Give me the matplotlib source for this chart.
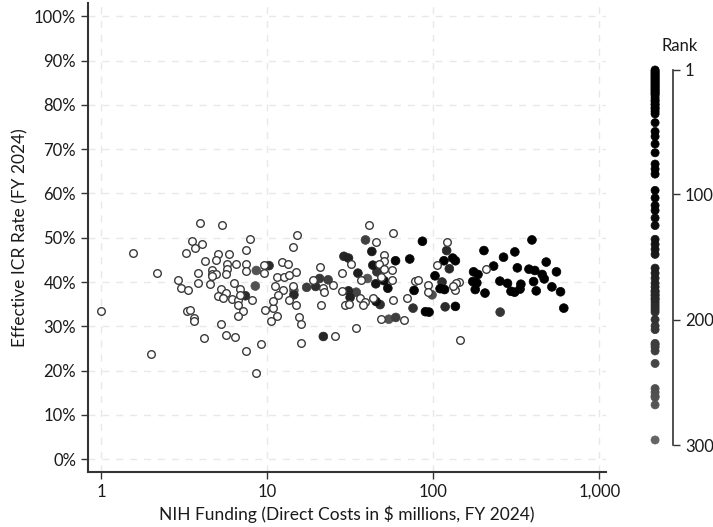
import numpy as np
import matplotlib
matplotlib.use('Agg')
import matplotlib.pyplot as plt
from matplotlib.colors import LinearSegmentedColormap, Normalize
from matplotlib.ticker import FuncFormatter, NullLocator

plt.rcParams['font.family'] = ['Lato', 'DejaVu Sans']

# unranked institutions (open circles): NIH direct costs ($M) and effective ICR (%)
open_funding = [1.56, 2.18, 2.92, 3.03, 1.0, 3.31, 1.99,
                3.24, 3.94, 5.38, 3.52, 4.08, 3.70, 7.93, 7.43, 5.09, 5.93, 4.95, 4.23, 7.5, 7.5,
                6.48, 5.77, 5.72, 4.64, 4.67, 4.95, 5.66, 3.83, 3.85, 4.50, 4.69, 9.58, 9.54, 12.3,
                6.35, 6.87, 5.28, 5.69, 5.05, 5.46, 6.15, 6.71, 6.84, 8.08, 3.33, 6.71, 7.17, 6.71,
                3.43, 3.64, 3.62, 5.28, 4.16, 5.64, 6.44, 7.43, 9.23, 8.61, 9.71, 10.9, 10.8, 11.4,
                10.5, 11.1, 11.5, 12.4, 11.7, 12.6,
                41.1, 15.2, 14.3, 13.4, 14.9, 13.6, 45.1, 31.9, 20.9, 28.1, 36.8, 18.8, 21.6, 24.8,
                22.0, 14.4, 13.5, 15.0, 15.6, 16.1, 16.0, 21.2, 25.5, 28.3, 29.4, 31.3, 36.0, 38.7,
                38.0, 43.3, 34.4, 48.6,
                57.6, 121, 50.6, 50.4, 47.0, 50.4, 56.1, 48.3, 56.3, 77.4, 80.7, 92.7, 93.5, 105,
                136, 142, 138, 132, 69.6, 57.1, 66.5, 145, 207]
open_icr = [46.6, 42.0, 40.5, 38.6, 33.4, 33.4, 23.8,
            46.6, 53.3, 52.9, 49.2, 48.6, 47.7, 49.8, 47.3, 46.3, 46.3, 44.9, 44.7, 44.0, 42.5,
            44.1, 44.0, 43.0, 42.8, 41.9, 41.7, 41.7, 42.0, 39.8, 39.5, 41.3, 43.8, 42.0, 44.5,
            39.7, 38.4, 38.5, 37.5, 36.8, 36.4, 36.2, 36.0, 37.1, 36.0, 38.3, 34.9, 33.5, 32.3,
            33.6, 31.9, 31.1, 30.6, 27.3, 28.1, 27.5, 24.5, 26.0, 19.4, 33.6, 34.1, 35.7, 32.3,
            31.1, 39.0, 41.2, 38.3, 37.0, 41.1,
            52.9, 50.7, 48.0, 44.1, 42.3, 41.6, 49.1, 44.0, 43.4, 42.0, 40.4, 40.4, 38.7, 39.4,
            37.7, 39.2, 36.0, 34.7, 32.0, 30.5, 26.2, 34.9, 27.9, 37.9, 34.7, 35.0, 36.3, 35.4,
            34.7, 36.5, 29.6, 31.6,
            51.1, 49.1, 46.0, 44.7, 44.1, 42.9, 42.6, 41.1, 40.4, 40.2, 40.5, 39.3, 37.7, 43.8,
            38.3, 39.9, 39.8, 39.0, 36.3, 35.9, 31.4, 26.9, 42.9]

# ranked institutions (filled circles, shaded by rank)
ranked_funding = [611, 584, 552, 518, 479, 466, 453, 417, 409, 402, 393, 377, 337, 333, 321,
                  310, 309, 294, 280, 265, 252, 231, 205, 202, 186, 183, 179, 175, 173, 136,
                  136, 131, 117, 116, 110, 102.5, 94.4, 89.8, 86.1, 76.7, 72.2, 59.3, 53.3, 50.6,
                  45.3, 45.1, 43.3, 42.7, 35.2, 31.6, 30.9, 30.9, 29.0, 21.8, 14.5, 10.27, 7.40,
                  8.61, 8.49, 39.1, 45.8, 40.2, 20.7, 23.3, 19.6, 17.3, 14.5, 34.4, 47.9, 120.5,
                  98.4, 125, 113, 118, 75.6, 54.0, 59.5, 253]
ranked_icr = [34.1, 37.8, 42.3, 38.9, 44.5, 40.7, 41.7, 38.0, 42.6, 40.1, 49.5, 42.9, 39.5, 38.4, 43.2,
              46.8, 37.7, 37.9, 39.7, 45.6, 40.2, 43.6, 37.5, 47.1, 41.7, 39.8, 38.3, 42.3, 40.1, 44.8,
              34.5, 45.4, 38.3, 44.8, 38.5, 41.4, 33.2, 33.3, 49.2, 38.1, 45.2, 44.8, 38.6, 40.3,
              35.6, 39.6, 43.8, 46.9, 42.0, 36.5, 45.4, 38.0, 45.8, 27.7, 37.1, 43.7, 36.9,
              42.6, 39.1, 49.5, 42.3, 40.8, 40.8, 40.5, 39.0, 38.8, 38.1, 37.7, 34.9, 47.1,
              37.1, 43.0, 40.0, 34.4, 34.1, 31.6, 32.0, 33.2]
ranked_rank = [1, 2, 3, 4, 5, 6, 7, 8, 9, 10, 11, 12, 13, 14, 15,
               16, 17, 18, 19, 20, 21, 23, 25, 26, 28, 29, 31, 32, 34, 36,
               43, 50, 54, 60, 67, 76, 80, 84, 97, 103, 109, 113, 119, 125,
               136, 140, 144, 148, 159, 163, 167, 171, 174, 177, 180, 184, 188,
               262, 258, 225, 200, 268, 208, 222, 190, 220, 296, 235, 192, 181,
               255, 178, 186, 183, 194, 261, 219, 205]

cmap = LinearSegmentedColormap.from_list('rank', ['#000000', '#666666'])
norm = Normalize(vmin=100, vmax=300, clip=True)

fig = plt.figure(figsize=(7.13, 5.27), dpi=100)
ax = fig.add_axes([88/713, 1-472/527, 518/713, 469/527])
ax.set_xscale('log')

rf = np.array(ranked_funding); ri = np.array(ranked_icr); rr = np.array(ranked_rank)
order = np.argsort(rr)[::-1]
ax.scatter(rf[order], ri[order], c=rr[order], cmap=cmap, norm=norm, s=40,
           edgecolors='face', linewidths=0.5, zorder=3)
ax.scatter(open_funding, open_icr, s=30, facecolors='white', edgecolors='#3a3a3a',
           linewidths=1.0, zorder=4)

ax.set_xlim(0.835, 1097)
ax.set_ylim(-2.9, 103)
ax.set_yticks(range(0, 101, 10))
ax.yaxis.set_major_formatter(FuncFormatter(lambda v, p: f'{v:.0f}%'))
ax.set_xticks([1, 10, 100, 1000])
ax.set_xticklabels(['1', '10', '100', '1,000'])
ax.xaxis.set_minor_locator(NullLocator())
ax.grid(True, color='#e8e8e8', ls=(0, (5, 5)), lw=1)
ax.set_axisbelow(True)
for s in ['top', 'right']:
    ax.spines[s].set_visible(False)
for s in ['left', 'bottom']:
    ax.spines[s].set_color('#333333'); ax.spines[s].set_linewidth(1.5)
ax.tick_params(length=5, width=1, color='#333333', labelsize=12, labelcolor='#1a1a1a')
ax.set_xlabel('NIH Funding (Direct Costs in $ millions, FY 2024)', fontsize=12.5, color='#1a1a1a')
ax.set_ylabel('Effective ICR Rate (FY 2024)', fontsize=12.5, color='#1a1a1a')

# rank legend strip
lax = fig.add_axes([645/713, 1-445/527, 28/713, 375/527])
lax.scatter(np.full(len(rr), 0.36), rr[order], c=rr[order], cmap=cmap, norm=norm, s=34,
            edgecolors='face', linewidths=0.5, clip_on=False)
lax.set_xlim(0, 1)
lax.set_ylim(300, 1)
for s in ['top', 'left', 'bottom']:
    lax.spines[s].set_visible(False)
lax.spines['right'].set_color('#333333'); lax.spines['right'].set_linewidth(1.2)
lax.set_xticks([])
lax.yaxis.tick_right()
lax.set_yticks([1, 100, 200, 300])
lax.tick_params(axis='y', length=5, width=1, color='#333333', labelsize=12, labelcolor='#1a1a1a')
fig.text(680/713, 1-46/527, 'Rank', ha='center', va='center', fontsize=12, color='#1a1a1a')

fig.savefig('out.png', dpi=100)
